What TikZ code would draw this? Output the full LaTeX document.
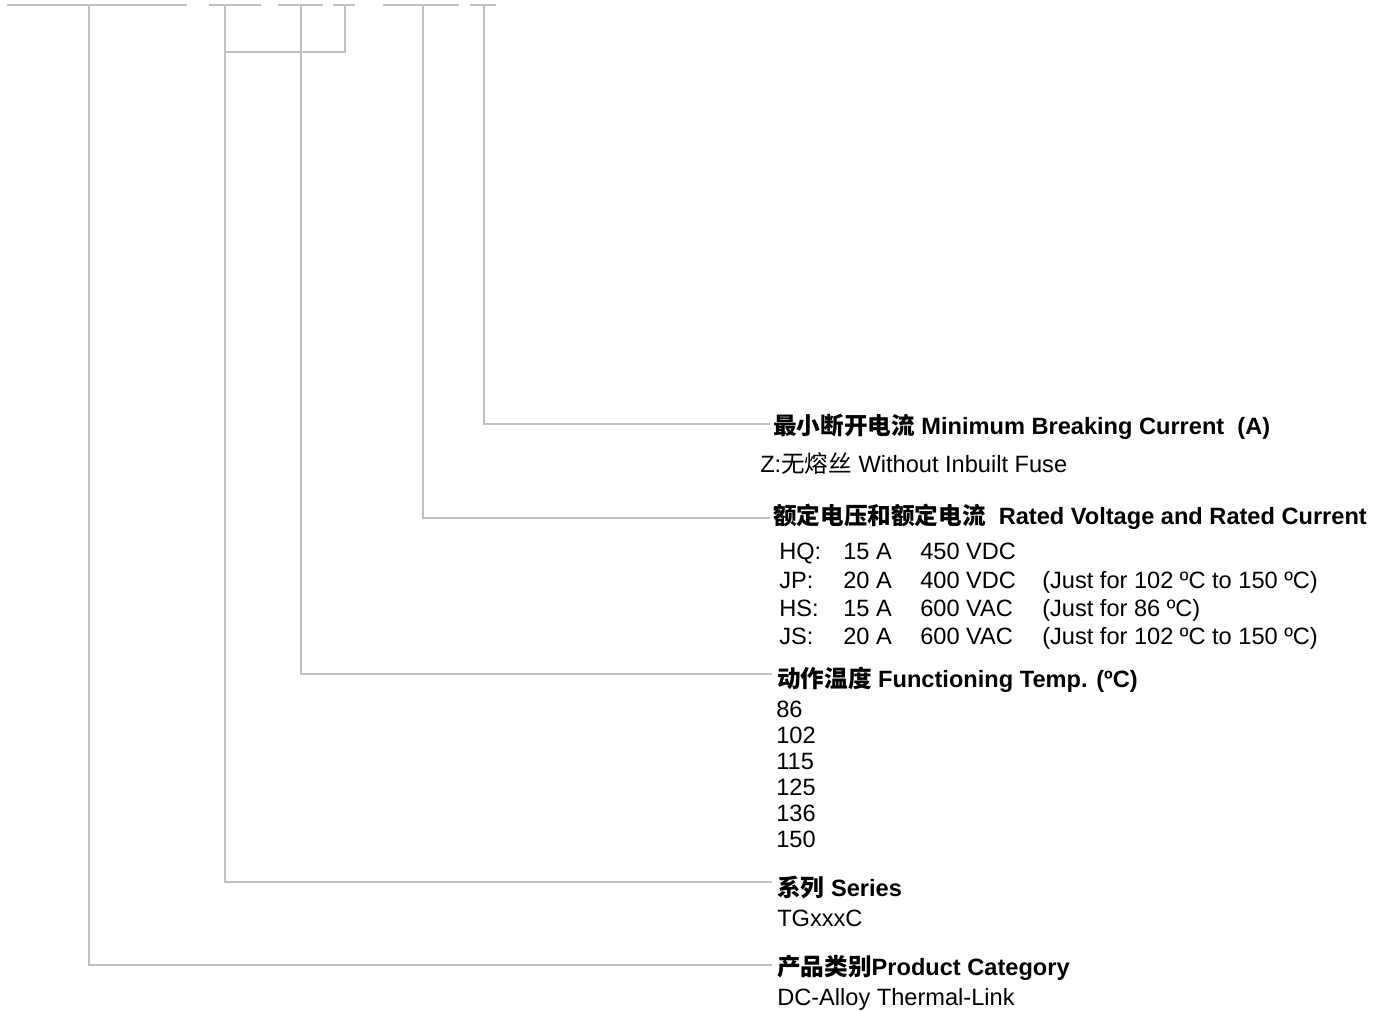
\documentclass[tikz,border=0pt]{standalone}
\usepackage{fontspec}
\setmainfont{Liberation Sans}
\newfontfamily\cjk{Noto Sans CJK SC}
\definecolor{linegray}{RGB}{192,192,192}
\begin{document}
\begin{tikzpicture}[x=0.75pt,y=-0.75pt,
  ln/.style={draw=linegray, line width=1.4pt},
  head/.style={anchor=west, inner sep=0pt, text height=13pt, text depth=3.5pt, font=\fontsize{17.7}{21}\selectfont\bfseries},
  body/.style={anchor=west, inner sep=0pt, text height=13pt, text depth=3.5pt, font=\fontsize{17.7}{21}\selectfont},
  list/.style={anchor=west, inner sep=0pt, align=left, font=\fontsize{17.7}{19.5}\selectfont}]
\useasboundingbox (0,0) rectangle (1387,1012);

% code slots at the top
\draw[ln] (7,5) -- (187,5);
\draw[ln] (209,5) -- (261,5);
\draw[ln] (278,5) -- (323,5);
\draw[ln] (333,5) -- (355,5);
\draw[ln] (383,5) -- (459,5);
\draw[ln] (470,5) -- (496,5);

\coordinate (s1) at (89,5);
\coordinate (s2) at (225,5);
\coordinate (s3) at (301,5);
\coordinate (s4) at (345,5);
\coordinate (s5) at (423,5);
\coordinate (s6) at (484,5);
\coordinate (j2) at (225,52);

% headings and texts
\node[head] (mbc) at (773,428) {{\cjk 最小断开电流} Minimum Breaking Current\ \ (A)};
\node[body] (z) at (760,466) {Z:{\cjk 无熔丝} Without Inbuilt Fuse};

\node[head] (rv) at (773,518) {{\cjk 额定电压和额定电流}\ \ Rated Voltage and Rated Current};
\node[body] (r1) at (779,553) {\makebox[48pt][l]{HQ:}\makebox[57.75pt][l]{15 A}450 VDC};
\node[body] (r2) at (779,582) {\makebox[48pt][l]{JP:}\makebox[57.75pt][l]{20 A}\makebox[91.5pt][l]{400 VDC}(Just for 102 ºC to 150 ºC)};
\node[body] (r3) at (779,610) {\makebox[48pt][l]{HS:}\makebox[57.75pt][l]{15 A}\makebox[91.5pt][l]{600 VAC}(Just for 86 ºC)};
\node[body] (r4) at (779,638) {\makebox[48pt][l]{JS:}\makebox[57.75pt][l]{20 A}\makebox[91.5pt][l]{600 VAC}(Just for 102 ºC to 150 ºC)};

\node[head] (ft) at (777,681) {{\cjk 动作温度} Functioning Temp. (ºC)};
\node[list] (tl) at (776,774) {86\\102\\115\\125\\136\\150};

\node[head] (se) at (777,890) {{\cjk 系列} Series};
\node[body] (tg) at (777,920) {TGxxxC};

\node[head] (pc) at (777,969) {{\cjk 产品类别}Product Category};
\node[body] (dc) at (777,999) {DC-Alloy Thermal-Link};

% connectors
\draw[ln] (s4) |- (j2);
\draw[ln] (s6) |- ([xshift=-2pt,yshift=3pt]mbc.west);
\draw[ln] (s5) |- ([xshift=-2pt]rv.west);
\draw[ln] (s3) |- ([xshift=-4pt,yshift=5.25pt]ft.west);
\draw[ln] (s2) |- ([xshift=-4pt,yshift=6pt]se.west);
\draw[ln] (s1) |- ([xshift=-4pt,yshift=3pt]pc.west);
\end{tikzpicture}
\end{document}
